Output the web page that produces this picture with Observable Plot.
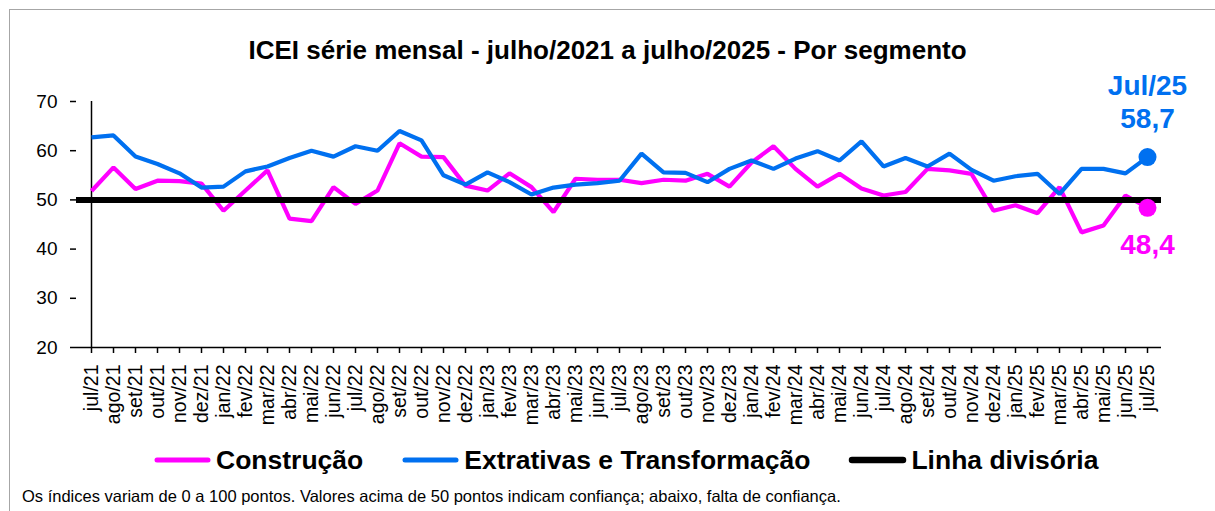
<!DOCTYPE html>
<html><head><meta charset="utf-8">
<script src="https://cdn.jsdelivr.net/npm/d3@7"></script>
<script src="https://cdn.jsdelivr.net/npm/@observablehq/plot@0.6"></script>
<style>
body{margin:0;background:#fff;font-family:"Liberation Sans",Arial,sans-serif;color:#000;}
#wrap{position:relative;width:1215px;height:511px;overflow:hidden;}
#frame{position:absolute;left:9px;top:9px;width:1230px;height:530px;border-left:1.5px solid #a6a6a6;border-top:1.5px solid #a6a6a6;}
#title{position:absolute;left:0;top:34px;width:1215px;text-align:center;font-weight:bold;font-size:26px;line-height:32px;}
#chart{position:absolute;left:0;top:70px;}
#legend{position:absolute;left:153px;top:440px;height:40px;display:flex;align-items:center;gap:38px;font-weight:bold;font-size:26.5px;}
#legend .item{display:flex;align-items:center;gap:4px;}
#note{position:absolute;left:22px;top:486px;font-size:16.5px;line-height:20px;white-space:nowrap;}
</style></head>
<body>
<div id="wrap">
  <div id="frame"></div>
  <div id="title"></div>
  <div id="chart"></div>
  <div id="legend"></div>
  <div id="note"></div>
</div>
<script>
const titulo = "ICEI série mensal - julho/2021 a julho/2025 - Por segmento";
const nota = "Os índices variam de 0 a 100 pontos. Valores acima de 50 pontos indicam confiança; abaixo, falta de confiança.";
const meses = ["jul/21","ago/21","set/21","out/21","nov/21","dez/21","jan/22","fev/22","mar/22","abr/22","mai/22","jun/22",
  "jul/22","ago/22","set/22","out/22","nov/22","dez/22","jan/23","fev/23","mar/23","abr/23","mai/23","jun/23",
  "jul/23","ago/23","set/23","out/23","nov/23","dez/23","jan/24","fev/24","mar/24","abr/24","mai/24","jun/24",
  "jul/24","ago/24","set/24","out/24","nov/24","dez/24","jan/25","fev/25","mar/25","abr/25","mai/25","jun/25","jul/25"];
const construcao = [51.8,56.6,52.2,53.9,53.8,53.3,47.8,51.9,56.0,46.2,45.7,52.6,
  49.2,51.9,61.5,58.8,58.7,52.9,51.9,55.4,52.6,47.5,54.3,54.1,
  54.1,53.4,54.1,53.9,55.3,52.7,57.6,60.9,56.3,52.7,55.3,52.3,
  50.9,51.6,56.3,56.0,55.3,47.8,48.9,47.3,52.6,43.4,44.8,50.9,48.4];
const extrativas = [62.7,63.1,58.8,57.3,55.4,52.5,52.7,55.8,56.8,58.5,60.0,58.8,
  60.9,60.0,64.0,62.1,55.0,53.1,55.6,53.6,51.1,52.5,53.1,53.4,
  53.9,59.4,55.6,55.5,53.6,56.3,58.0,56.3,58.4,59.9,58.0,61.9,
  56.8,58.5,56.8,59.4,56.1,53.9,54.8,55.3,51.2,56.3,56.3,55.4,58.7];
const linhaDivisoria = 50;
const yTicks = [20,30,40,50,60,70];
const seriesNomes = ["Construção","Extrativas e Transformação","Linha divisória"];
const seriesCores = ["#FF00FF","#0070F0","#000000"];

document.getElementById("title").textContent = titulo;
document.getElementById("note").textContent = nota;

const dados = meses.flatMap((m,i)=>[
  {mes:m, serie:seriesNomes[0], valor:construcao[i]},
  {mes:m, serie:seriesNomes[1], valor:extrativas[i]}
]);
const ultimoMes = meses[meses.length-1];
const ultimo = dados.filter(d=>d.mes===ultimoMes);
const fmt = v => v.toFixed(1).replace(".",",");
const cap = s => s.charAt(0).toUpperCase()+s.slice(1);

const chart = Plot.plot({
  width:1215, height:370,
  marginTop:31, marginBottom:93, marginLeft:76, marginRight:54,
  style:{fontFamily:"'Liberation Sans', Arial, sans-serif", color:"#000", background:"transparent", overflow:"visible"},
  x:{type:"point", domain:meses, padding:0, label:null},
  y:{domain:[20,70], label:null},
  color:{domain:seriesNomes, range:seriesCores},
  marks:[
    Plot.axisY({ticks:yTicks, tickSize:6, tickPadding:13, fontSize:19, label:null, stroke:"#000", strokeWidth:1.5}),
    Plot.axisX({tickRotate:-90, tickSize:6, tickPadding:11, fontSize:19.5, label:null, stroke:"#000", strokeWidth:1.5}),
    Plot.ruleX([meses[0]], {y1:20, y2:70, stroke:"#000", strokeWidth:1.5}),
    Plot.ruleY([20], {stroke:"#000", strokeWidth:1.5}),
    Plot.line(dados, {x:"mes", y:"valor", z:"serie", stroke:"serie", strokeWidth:4.2, strokeLinejoin:"miter", strokeLinecap:"butt"}),
    Plot.ruleY([linhaDivisoria], {stroke:"#000", strokeWidth:6}),
    Plot.dot(ultimo, {x:"mes", y:"valor", fill:"serie", r:9}),
    Plot.text(ultimo.filter(d=>d.serie===seriesNomes[1]), {x:"mes", y:"valor", text:d=>cap(d.mes), dy:-71, fill:seriesCores[1], fontSize:28, fontWeight:"bold"}),
    Plot.text(ultimo.filter(d=>d.serie===seriesNomes[1]), {x:"mes", y:"valor", text:d=>fmt(d.valor), dy:-38, fill:seriesCores[1], fontSize:28, fontWeight:"bold"}),
    Plot.text(ultimo.filter(d=>d.serie===seriesNomes[0]), {x:"mes", y:"valor", text:d=>fmt(d.valor), dy:37, fill:seriesCores[0], fontSize:28, fontWeight:"bold"})
  ]
});
document.getElementById("chart").appendChild(chart);

const leg = document.getElementById("legend");
seriesNomes.forEach((n,i)=>{
  const it = document.createElement("div"); it.className="item";
  const w = i===2 ? 6.5 : 5;
  it.innerHTML = `<svg width="59" height="12"><line x1="4" y1="6" x2="55" y2="6" stroke="${seriesCores[i]}" stroke-width="${w}" stroke-linecap="round"/></svg>`;
  const t = document.createElement("span"); t.textContent = n; it.appendChild(t);
  leg.appendChild(it);
});
</script>
</body></html>
